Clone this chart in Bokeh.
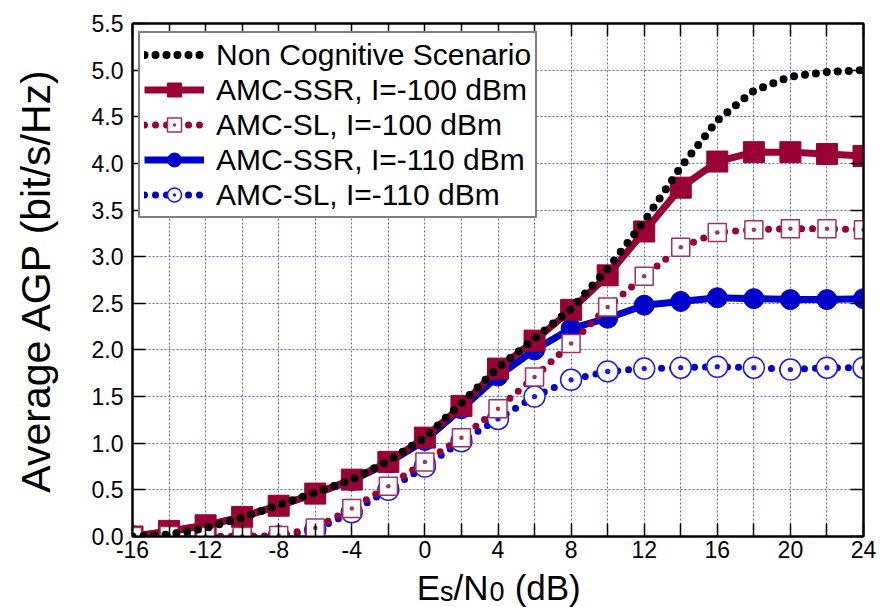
from bokeh.plotting import figure
from bokeh.layouts import column
from bokeh.models import (Range1d, FixedTicker, PrintfTickFormatter, LinearAxis,
                          Legend, LegendItem, ColumnDataSource, CustomJSTickFormatter)
from bokeh.core.properties import value
from bokeh.embed import file_html
from bokeh.resources import INLINE

# ---------------- data ----------------
snr_db = [-16, -14, -12, -10, -8, -6, -4, -2, 0, 2, 4, 6, 8, 10, 12, 14, 16, 18, 20, 22, 24]
non_cognitive = [0.0, 0.02, 0.09, 0.20, 0.34, 0.47, 0.61, 0.81, 1.06, 1.43, 1.81, 2.12, 2.44,
                 2.87, 3.38, 3.96, 4.46, 4.78, 4.93, 4.98, 5.0]
ssr_100 = [0.0, 0.06, 0.12, 0.21, 0.33, 0.46, 0.61, 0.80, 1.06, 1.40, 1.80, 2.10, 2.43,
           2.80, 3.27, 3.74, 4.02, 4.12, 4.12, 4.10, 4.08]
sl_100 = [0.0, 0.01, 0.0, 0.0, 0.01, 0.09, 0.30, 0.54, 0.80, 1.06, 1.37, 1.71, 2.07,
          2.46, 2.79, 3.10, 3.26, 3.29, 3.30, 3.30, 3.29]
ssr_110 = [0.0, 0.05, 0.12, 0.21, 0.33, 0.46, 0.60, 0.79, 1.03, 1.37, 1.72, 2.00, 2.23,
           2.34, 2.48, 2.52, 2.56, 2.55, 2.54, 2.54, 2.55]
sl_110 = [0.0, 0.0, 0.0, 0.0, 0.0, 0.07, 0.26, 0.50, 0.75, 1.02, 1.26, 1.50, 1.68,
          1.77, 1.80, 1.81, 1.82, 1.81, 1.79, 1.81, 1.81]

series_labels = ["Non Cognitive Scenario", "AMC-SSR, I=-100 dBm", "AMC-SL, I=-100 dBm",
                 "AMC-SSR, I=-110 dBm", "AMC-SL, I=-110 dBm"]
x_ticks = [-16, -12, -8, -4, 0, 4, 8, 12, 16, 20, 24]
x_minor_ticks = [-14, -10, -6, -2, 2, 6, 10, 14, 18, 22]
y_ticks = [0.0, 0.5, 1.0, 1.5, 2.0, 2.5, 3.0, 3.5, 4.0, 4.5, 5.0, 5.5]
y_label = "Average AGP (bit/s/Hz)"
x_label_parts = ["E", "s", "/N", "0", "(dB)"]

# ---------------- styling ----------------
FONT = "Liberation Sans"
MAROON = "#990033"
MAROON_OPEN = "#a33060"
BLUE = "#0000cc"
BLUE_OPEN = "#1a1aee"
GRID = "#5c5cff"

p = figure(width=882, height=567, output_backend="svg", toolbar_location=None, tools="",
           x_range=Range1d(-16, 24), y_range=Range1d(0, 5.5),
           min_border_left=132, min_border_right=19, min_border_top=23, min_border_bottom=31,
           background_fill_color="white", border_fill_color="white",
           outline_line_color="black", outline_line_width=2)

xt = FixedTicker(ticks=x_ticks, minor_ticks=x_minor_ticks)
yt = FixedTicker(ticks=y_ticks)

p.xaxis.ticker = xt
p.yaxis.ticker = yt
p.xaxis.formatter = PrintfTickFormatter(format="%d")
p.yaxis.formatter = PrintfTickFormatter(format="%.1f")

def style_axis(ax, labels=True):
    ax.axis_line_color = "black"
    ax.axis_line_width = 2
    ax.major_tick_in = 13
    ax.major_tick_out = 0
    ax.minor_tick_in = 13
    ax.minor_tick_out = 0
    ax.major_tick_line_color = "black"
    ax.major_tick_line_width = 1.5
    ax.minor_tick_line_color = "black"
    ax.minor_tick_line_width = 1.5
    if labels:
        ax.major_label_text_font = FONT
        ax.major_label_text_font_size = "23px"
        ax.major_label_text_color = "black"
        ax.major_label_standoff = 9
    else:
        ax.formatter = CustomJSTickFormatter(code="return ''")
        ax.major_label_text_font_size = "8px"
        ax.major_label_standoff = 0

for ax in p.xaxis:
    style_axis(ax)
    ax.major_label_standoff = 4
for ax in p.yaxis:
    style_axis(ax)
    ax.axis_label = y_label
    ax.axis_label_text_font = FONT
    ax.axis_label_text_font_size = "41px"
    ax.axis_label_text_font_style = "normal"
    ax.axis_label_text_color = "black"
    ax.axis_label_standoff = 30

top_axis = LinearAxis(ticker=xt)
style_axis(top_axis, labels=False)
p.add_layout(top_axis, "above")
right_axis = LinearAxis(ticker=yt)
style_axis(right_axis, labels=False)
p.add_layout(right_axis, "right")

for g in (p.xgrid, p.ygrid):
    g.grid_line_color = GRID
    g.grid_line_width = 1
    g.grid_line_dash = "2 2"
p.xgrid.minor_grid_line_color = GRID
p.xgrid.minor_grid_line_width = 1
p.xgrid.minor_grid_line_dash = "2 2"

# ---------------- series (draw order: blue SL, blue SSR, maroon SSR, maroon SL, black) ----------------
l_sl110 = p.line(snr_db, sl_110, line_color=BLUE, line_width=7, line_dash="0 11", line_cap="round")
s_sl110 = p.scatter(snr_db, sl_110, marker="circle_dot", size=21, fill_color="white",
                    line_color=BLUE_OPEN, line_width=1.5)

l_ssr110 = p.line(snr_db, ssr_110, line_color=BLUE, line_width=7)
s_ssr110 = p.scatter(snr_db, ssr_110, marker="circle", size=20, fill_color=BLUE, line_color=BLUE)

l_ssr100 = p.line(snr_db, ssr_100, line_color=MAROON, line_width=7)
s_ssr100 = p.scatter(snr_db, ssr_100, marker="square", size=21, fill_color=MAROON, line_color=MAROON)

l_sl100 = p.line(snr_db, sl_100, line_color=MAROON, line_width=7, line_dash="0 11", line_cap="round")
s_sl100 = p.scatter(snr_db, sl_100, marker="square_dot", size=18, fill_color="white",
                    line_color=MAROON_OPEN, line_width=1.5)

l_nc = p.line(snr_db, non_cognitive, line_color="black", line_width=8, line_dash="0 11",
              line_cap="round")

legend = Legend(items=[
    LegendItem(label=series_labels[0], renderers=[l_nc]),
    LegendItem(label=series_labels[1], renderers=[l_ssr100, s_ssr100]),
    LegendItem(label=series_labels[2], renderers=[l_sl100, s_sl100]),
    LegendItem(label=series_labels[3], renderers=[l_ssr110, s_ssr110]),
    LegendItem(label=series_labels[4], renderers=[l_sl110, s_sl110]),
], location=(6, 318), border_line_color="black", border_line_width=2,
   background_fill_color="white", background_fill_alpha=1.0,
   label_text_font=FONT, label_text_font_size="30px", label_text_color="black",
   glyph_width=60, glyph_height=35, label_height=30, spacing=0, padding=4,
   label_standoff=12, margin=0)
p.add_layout(legend)

# ---------------- x-axis title strip: E_s / N_0 (dB) ----------------
p2 = figure(width=882, height=40, output_backend="svg", toolbar_location=None, tools="",
            title=None,
            x_range=p.x_range, y_range=Range1d(0, 40), x_axis_type=None, y_axis_type=None,
            min_border_left=132, min_border_right=19, min_border_top=0, min_border_bottom=0,
            background_fill_color="white", border_fill_color="white", outline_line_color=None)
p2.grid.visible = False
lab_src = ColumnDataSource(dict(
    x=[-0.44, 0.83, 1.57, 3.54, 4.91],
    y=[19.9, 15.9, 19.9, 15.9, 19.9],
    text=x_label_parts,
    fs=["35px", "27px", "35px", "27px", "35px"],
))
p2.text(x="x", y="y", text="text", source=lab_src, text_font=value(FONT),
        text_font_size="fs", text_baseline="middle", text_align="left", text_color="black")

layout = column(p, p2, spacing=0)
open("out.html", "w").write(file_html(layout, INLINE))
